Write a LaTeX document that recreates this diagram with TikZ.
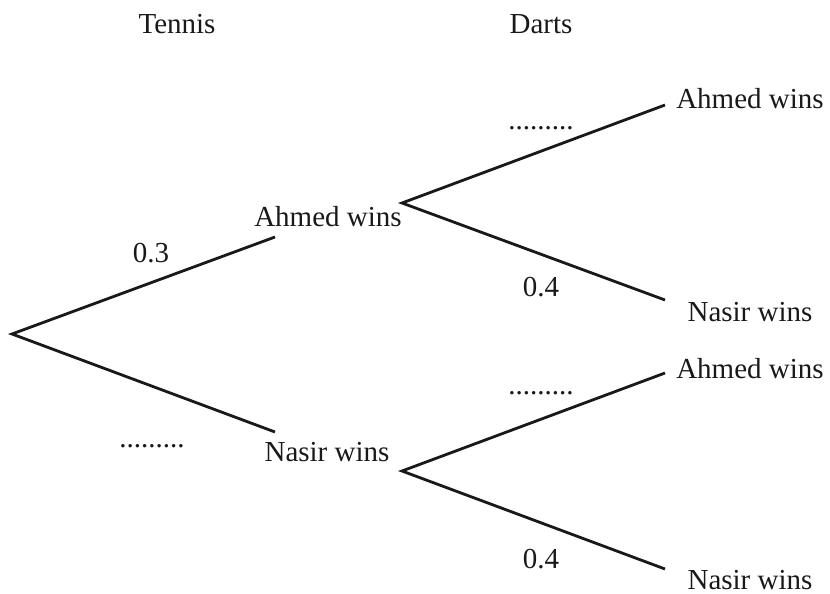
\documentclass[tikz,border=0pt]{standalone}
\usepackage{fontspec}
\setmainfont{Liberation Serif}
\begin{document}
\begin{tikzpicture}[x=0.5pt,y=-0.5pt,
  lbl/.style={inner sep=0pt,font=\fontsize{14.5pt}{17pt}\selectfont,text=black!90},
  branch/.style={line width=1.4pt,black!90,line join=miter}]
\useasboundingbox (0,0) rectangle (830,594);
% branch points
\coordinate (r) at (12,334);
\coordinate (a1) at (275,237);
\coordinate (n1) at (275,432);
\coordinate (av) at (402,203);
\coordinate (nv) at (402,471);
\coordinate (aa) at (665,105);
\coordinate (an) at (665,300);
\coordinate (na) at (665,373);
\coordinate (nn) at (665,569);
% headings
\node[lbl] (tennis) at (177,24) {Tennis};
\node[lbl] (darts) at (541,24) {Darts};
% first-level outcomes
\node[lbl] (A1) at (328,217) {Ahmed wins};
\node[lbl] (N1) at (327,452) {Nasir wins};
% second-level outcomes
\node[lbl] (AA) at (750,99) {Ahmed wins};
\node[lbl] (AN) at (750,312) {Nasir wins};
\node[lbl] (NA) at (750,369) {Ahmed wins};
\node[lbl] (NN) at (750,580) {Nasir wins};
% probabilities
\node[lbl] (p03) at (151,253) {0.3};
\node[lbl] (pd1) at (152,446) {.........};
\node[lbl] (pd2) at (541,128) {.........};
\node[lbl] (p04a) at (541,287) {0.4};
\node[lbl] (pd3) at (541,393) {.........};
\node[lbl] (p04b) at (541,559) {0.4};
% branches
\draw[branch] (a1) -- (r) -- (n1);
\draw[branch] (aa) -- (av) -- (an);
\draw[branch] (na) -- (nv) -- (nn);
\end{tikzpicture}
\end{document}
